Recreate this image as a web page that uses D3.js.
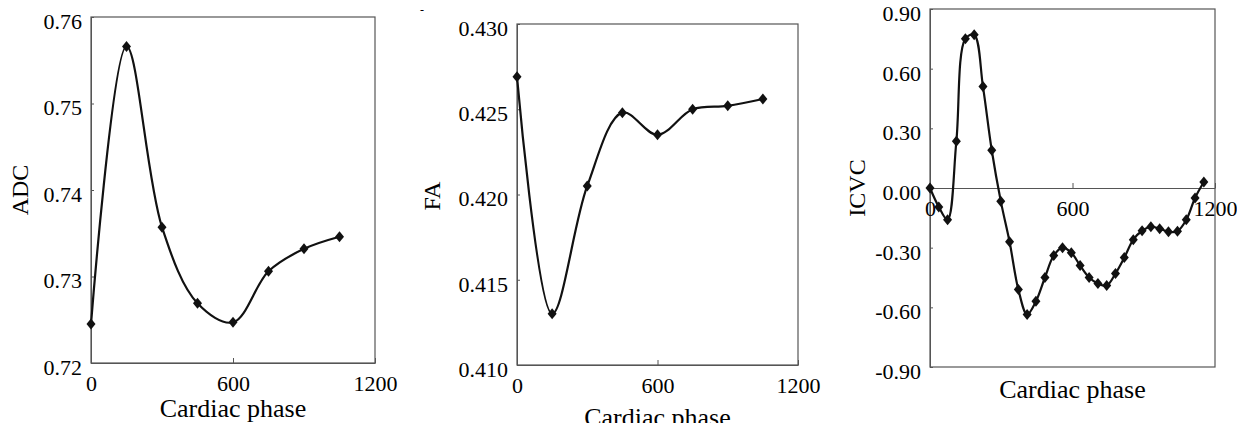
<!DOCTYPE html>
<html>
<head>
<meta charset="utf-8">
<script src="https://cdn.jsdelivr.net/npm/d3@7"></script>
<style>
  body { margin: 0; background: #fff; }
  svg text { font-family: "Liberation Serif", "Times New Roman", Times, serif; fill: #000; }
</style>
</head>
<body>
<div id="chart"></div>
<script>
// data
var phaseShort = [0, 150, 300, 450, 600, 750, 900, 1050];
var adcValues = [0.7245, 0.7566, 0.7357, 0.7269, 0.7247, 0.7306, 0.7332, 0.7346];
var faValues = [0.4269, 0.4130, 0.4205, 0.4248, 0.4235, 0.4250, 0.4252, 0.4256];

var phaseLong = [0, 37, 74, 111, 149, 186, 223, 260, 298, 335, 372, 409, 446, 484, 521, 558,
                 595, 632, 670, 707, 744, 781, 818, 856, 893, 930, 967, 1004, 1042, 1079, 1116, 1153];
var icvcValues = [0.00, -0.095, -0.16, 0.235, 0.75, 0.77, 0.51, 0.19, -0.066, -0.27, -0.51, -0.636,
                  -0.57, -0.45, -0.34, -0.30, -0.325, -0.39, -0.45, -0.48, -0.49, -0.43, -0.35, -0.26,
                  -0.215, -0.195, -0.205, -0.22, -0.217, -0.16, -0.05, 0.03];

var xTicks = [0, 600, 1200];
var adcTicks = [0.72, 0.73, 0.74, 0.75, 0.76];
var faTicks = [0.410, 0.415, 0.420, 0.425, 0.430];
var icvcTicks = [-0.90, -0.60, -0.30, 0.00, 0.30, 0.60, 0.90];

var svg = d3.select("#chart")
  .append("svg")
    .attr("width", 1237)
    .attr("height", 423);

// one panel = box + axes + smoothed line + diamond markers
function drawPanel(opt) {
  var x = d3.scaleLinear().domain([0, 1200]).range([opt.left, opt.right]);
  var y = d3.scaleLinear().domain(opt.yDomain).range([opt.bottom, opt.top]);

  // frame
  svg.append("rect")
    .attr("x", opt.left)
    .attr("y", opt.top)
    .attr("width", opt.right - opt.left)
    .attr("height", opt.bottom - opt.top)
    .attr("fill", "none")
    .attr("stroke", "#555")
    .attr("stroke-width", 1.2);

  // y axis, ticks pointing inwards
  var yAxis = svg.append("g")
    .attr("transform", "translate(" + opt.left + ",0)")
    .call(d3.axisLeft(y)
      .tickValues(opt.yTicks)
      .tickSizeInner(-3)
      .tickSizeOuter(0)
      .tickPadding(9)
      .tickFormat(function(d) { return d.toFixed(opt.digits); }));
  yAxis.attr("font-family", null);
  yAxis.select(".domain").attr("stroke", "#555");
  yAxis.selectAll("line").attr("stroke", "#555");
  yAxis.selectAll("text")
    .attr("dy", "0.52em")
    .style("font-size", "22px");

  // x axis sits at the bottom or at y = 0
  var xAxisY = opt.xAtZero ? y(0) : opt.bottom;
  var xAxis = svg.append("g")
    .attr("transform", "translate(0," + xAxisY + ")")
    .call(d3.axisBottom(x)
      .tickValues(xTicks)
      .tickSizeInner(-5)
      .tickSizeOuter(0)
      .tickPadding(12)
      .tickFormat(d3.format("d")));
  xAxis.attr("font-family", null);
  xAxis.select(".domain").attr("stroke", "#555");
  xAxis.selectAll("line").attr("stroke", "#555");
  xAxis.selectAll("text")
    .style("font-size", "22px");

  // axis titles
  svg.append("text")
    .attr("x", (opt.left + opt.right) / 2)
    .attr("y", opt.xTitleY)
    .attr("text-anchor", "middle")
    .style("font-size", "26px")
    .text("Cardiac phase");

  svg.append("text")
    .attr("transform", "translate(" + (opt.yTitleX + 8) + "," + opt.yTitleY + ") rotate(-90)")
    .attr("text-anchor", "middle")
    .style("font-size", "24px")
    .text(opt.yTitle);

  var pts = opt.xs.map(function(d, i) { return {x: d, y: opt.ys[i]}; });

  var line = d3.line()
    .x(function(d) { return x(d.x); })
    .y(function(d) { return y(d.y); })
    .curve(d3.curveCatmullRom.alpha(0.5));

  svg.append("path")
    .datum(pts)
    .attr("fill", "none")
    .attr("stroke", "#111")
    .attr("stroke-width", 2.2)
    .attr("d", line);

  svg.append("g")
    .selectAll("path")
    .data(pts)
    .enter()
    .append("path")
      .attr("d", "M0,-5.5L4.5,0L0,5.5L-4.5,0Z")
      .attr("fill", "#111")
      .attr("transform", function(d) { return "translate(" + x(d.x) + "," + y(d.y) + ")"; });
}

drawPanel({
  left: 91, right: 375, top: 17, bottom: 363,
  yDomain: [0.72, 0.76], yTicks: adcTicks, digits: 2,
  xs: phaseShort, ys: adcValues,
  yTitle: "ADC", yTitleX: 20, yTitleY: 190, xTitleY: 417
});

drawPanel({
  left: 517, right: 798, top: 24, bottom: 365,
  yDomain: [0.410, 0.430], yTicks: faTicks, digits: 3,
  xs: phaseShort, ys: faValues,
  yTitle: "FA", yTitleX: 432, yTitleY: 196, xTitleY: 426
});

drawPanel({
  left: 930, right: 1215, top: 9, bottom: 367,
  yDomain: [-0.90, 0.90], yTicks: icvcTicks, digits: 2, xAtZero: true,
  xs: phaseLong, ys: icvcValues,
  yTitle: "ICVC", yTitleX: 857, yTitleY: 188, xTitleY: 398
});

// stray dash above the middle panel
svg.append("text")
  .attr("x", 422)
  .attr("y", 14)
  .attr("text-anchor", "middle")
  .style("font-size", "12px")
  .text("-");
</script>
</body>
</html>
